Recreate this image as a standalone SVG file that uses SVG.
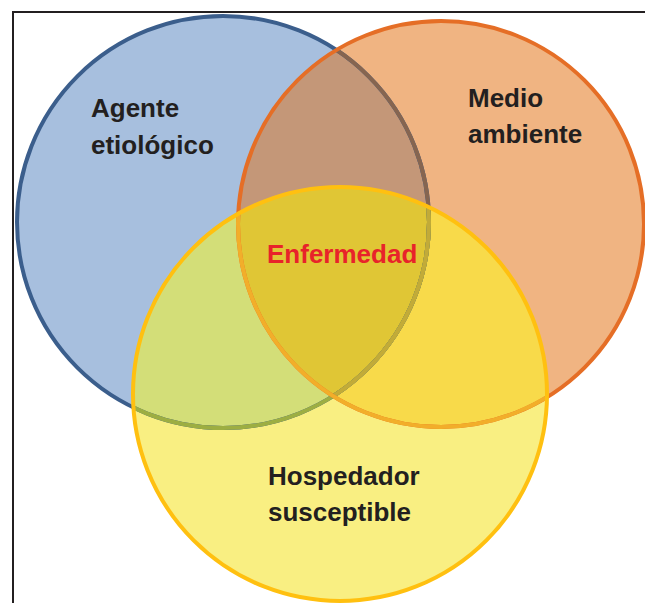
<svg xmlns="http://www.w3.org/2000/svg" xmlns:xlink="http://www.w3.org/1999/xlink" width="645" height="603" viewBox="0 0 645 603">
  <style>
    .lbl { font-family: "Liberation Sans", Arial, sans-serif; font-weight: bold; font-size: 26px; fill: #231F20; }
    .red { fill: #E8232A; }
    .sw { fill: none; stroke-width: 4; }
  </style>
  <defs>
    <clipPath id="cB"><circle cx="223" cy="222" r="206"/></clipPath>
    <clipPath id="cO"><circle cx="441" cy="224" r="203"/></clipPath>
    <clipPath id="cY"><circle cx="340" cy="394" r="207"/></clipPath>
  </defs>
  <rect width="645" height="603" fill="#FFFFFF"/>
  <g id="frame" stroke="#231F20" stroke-width="2" fill="none">
    <path d="M13 603 V12 H645"/>
  </g>
  <g id="fills">
    <circle cx="223" cy="222" r="206" fill="#A7BFDE"/>
    <circle cx="441" cy="224" r="203" fill="#F0B482"/>
    <g clip-path="url(#cB)"><circle cx="441" cy="224" r="203" fill="#C49778"/></g>
    <circle cx="340" cy="394" r="207" fill="#F9EF82"/>
    <g clip-path="url(#cB)"><circle cx="340" cy="394" r="207" fill="#D3DE78"/></g>
    <g clip-path="url(#cO)"><circle cx="340" cy="394" r="207" fill="#F8DA4A"/></g>
    <g clip-path="url(#cO)"><g clip-path="url(#cB)"><circle cx="340" cy="394" r="207" fill="#E0C635"/></g></g>
  </g>
  <g id="connectors">
    <circle class="sw" cx="223" cy="222" r="206" stroke="#3B5E8C"/>
    <g clip-path="url(#cO)"><circle class="sw" cx="223" cy="222" r="206" stroke="#866550"/></g>
    <g clip-path="url(#cY)"><circle class="sw" cx="223" cy="222" r="206" stroke="#9DAE42"/></g>
    <g clip-path="url(#cY)"><g clip-path="url(#cO)"><circle class="sw" cx="223" cy="222" r="206" stroke="#C2AB38"/></g></g>
    <circle class="sw" cx="441" cy="224" r="203" stroke="#E56E26"/>
    <g clip-path="url(#cY)"><circle class="sw" cx="441" cy="224" r="203" stroke="#F2AE2A"/></g>
    <circle class="sw" cx="340" cy="394" r="207" stroke="#FFC010"/>
  </g>
  <g id="agente">
    <text class="lbl" x="91" y="117">Agente</text>
    <text class="lbl" x="91" y="154">etiológico</text>
  </g>
  <g id="medio">
    <text class="lbl" x="468" y="107">Medio</text>
    <text class="lbl" x="468" y="143">ambiente</text>
  </g>
  <g id="enfermedad">
    <text class="lbl red" x="267" y="263">Enfermedad</text>
  </g>
  <g id="hospedador">
    <text class="lbl" x="268" y="485">Hospedador</text>
    <text class="lbl" x="268" y="521">susceptible</text>
  </g>
</svg>
